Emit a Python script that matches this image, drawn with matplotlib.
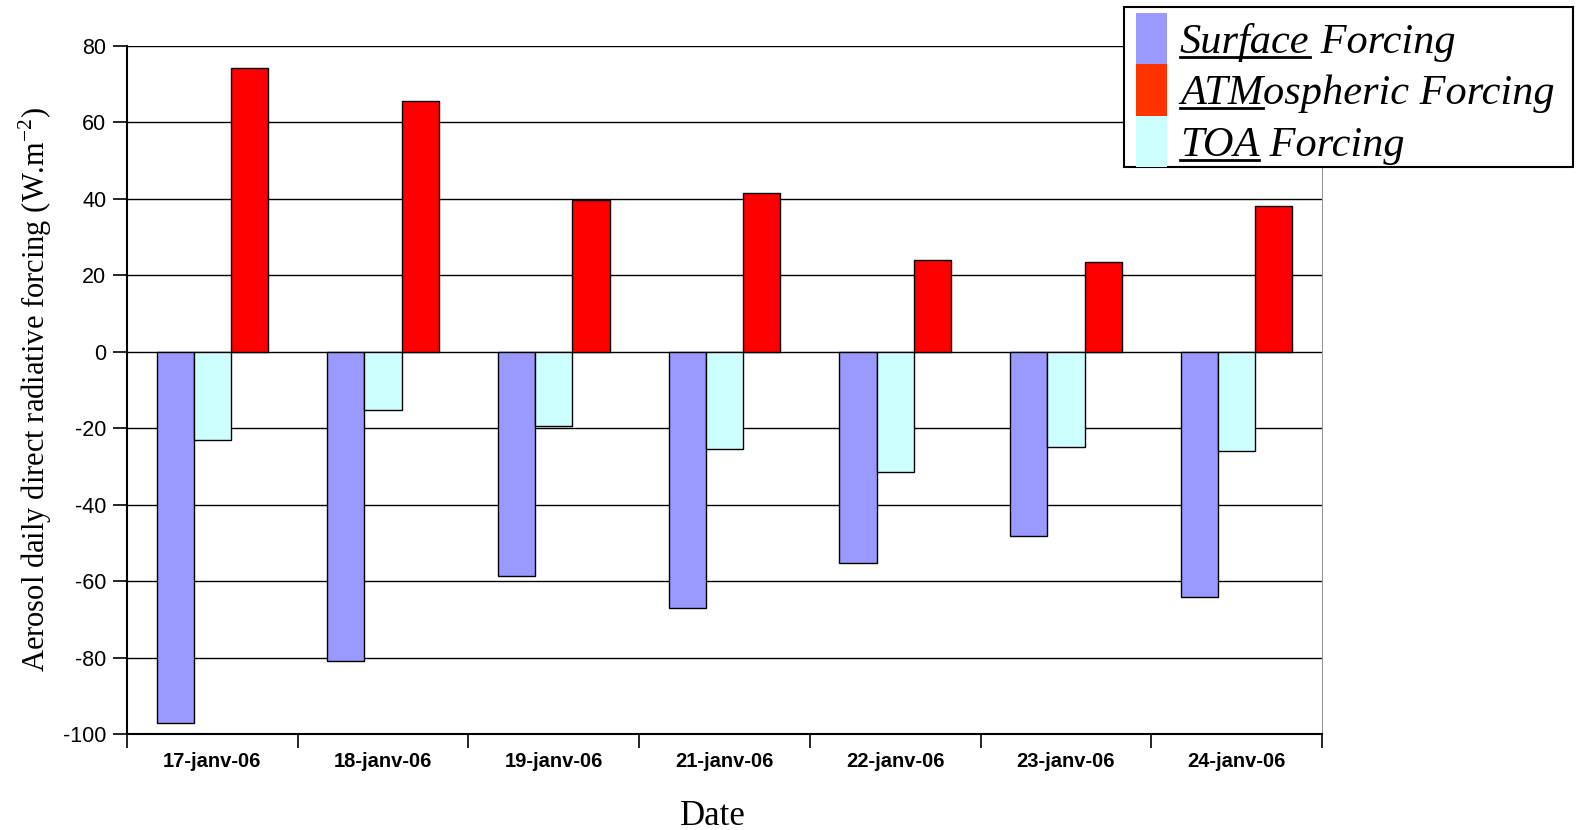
import numpy as np
from matplotlib import pyplot as plt, patches, lines

plt.rcParams['axes.unicode_minus'] = False
plt.rcParams['mathtext.fontset'] = 'custom'
plt.rcParams['mathtext.rm'] = 'Liberation Serif'

dates = ['17-janv-06', '18-janv-06', '19-janv-06', '21-janv-06',
         '22-janv-06', '23-janv-06', '24-janv-06']
surface = [-97.0, -80.8, -58.6, -67.0, -55.2, -48.3, -64.2]
toa = [-23.0, -15.2, -19.3, -25.5, -31.5, -25.0, -26.0]
atm = [74.3, 65.6, 39.8, 41.6, 24.0, 23.5, 38.2]

c_surf = '#9999ff'
c_atm = '#ff0000'
c_atm_leg = '#ff3300'
c_toa = '#ccffff'

W, H = 1578, 830
fig = plt.figure(figsize=(W / 100, H / 100), dpi=100)
ax = fig.add_axes([127 / W, 1 - 734 / H, (1322 - 127) / W, (734 - 46) / H])

x = np.arange(len(dates)) + 0.5
bw = 0.218
for off, vals, col in [(-bw, surface, c_surf), (0, toa, c_toa), (bw, atm, c_atm)]:
    ax.bar(x + off, vals, width=bw, color=col, edgecolor='black', linewidth=1, zorder=3)

ax.set_xlim(0, len(dates))
ax.set_ylim(-100, 80)
ax.set_yticks(np.arange(-100, 81, 20))
ax.yaxis.grid(True, color='black', linewidth=1, zorder=0)
ax.set_axisbelow(True)

ax.set_xticks(np.arange(len(dates) + 1))
ax.set_xticklabels([])
ax.set_xticks(x, minor=True)
ax.set_xticklabels(dates, minor=True, fontsize=14.5, fontweight='bold',
                   family='Liberation Sans')
ax.tick_params(axis='x', which='major', length=10, width=1.2, direction='out')
ax.tick_params(axis='x', which='minor', length=0, pad=13)
ax.tick_params(axis='y', length=10, width=1.2, direction='out', labelsize=15.5, pad=5)
for t in ax.get_yticklabels():
    t.set_family('Liberation Sans')

ax.spines['top'].set_visible(False)
ax.spines['right'].set_color('#999999')
ax.spines['left'].set_linewidth(1.5)
ax.spines['bottom'].set_linewidth(1.5)

ax.set_ylabel('Aerosol daily direct radiative forcing (W.m$^{\\mathrm{-2}}$)',
              family='Liberation Serif', fontsize=22)
ax.yaxis.set_label_coords(-73 / 1195, 0.5)
ax.set_xlabel('Date', family='Liberation Serif', fontsize=25)
ax.xaxis.set_label_coords((708 * 1.0064 - 127) / 1195, -66 / 688)


# legend drawn by hand (partly underlined labels)
def fx(px):
    return px / W


def fy(py):
    return 1 - py / H


fig.patches.append(patches.Rectangle((fx(1124), fy(167)), fx(1573) - fx(1124), fy(7) - fy(167),
                                     transform=fig.transFigure, facecolor='white',
                                     edgecolor='black', linewidth=1.5, zorder=5))
rows = [('Surface', ' Forcing', c_surf), ('ATM', 'ospheric Forcing', c_atm_leg),
        ('TOA', ' Forcing', c_toa)]
top, step = 13, 51.3
fig.canvas.draw()
r = fig.canvas.get_renderer()
for i, (u, rest, col) in enumerate(rows):
    y0 = top + i * step
    fig.patches.append(patches.Rectangle((fx(1136), fy(y0 + step)), fx(1167) - fx(1136),
                                         fy(y0) - fy(y0 + step), transform=fig.transFigure,
                                         facecolor=col, edgecolor='none', zorder=6))
    base = y0 + 40
    t1 = fig.text(fx(1180), fy(base), u, family='Liberation Serif', style='italic',
                  fontsize=30.5, va='baseline', ha='left', zorder=7)
    bb = t1.get_window_extent(r)
    fig.lines.append(lines.Line2D([bb.x0 / W, bb.x1 / W], [fy(base + 4), fy(base + 4)],
                                  transform=fig.transFigure, color='black', linewidth=2,
                                  zorder=7))
    fig.text(bb.x1 / W, fy(base), rest, family='Liberation Serif', style='italic',
             fontsize=30.5, va='baseline', ha='left', zorder=7)

fig.savefig('out.png', dpi=100)
